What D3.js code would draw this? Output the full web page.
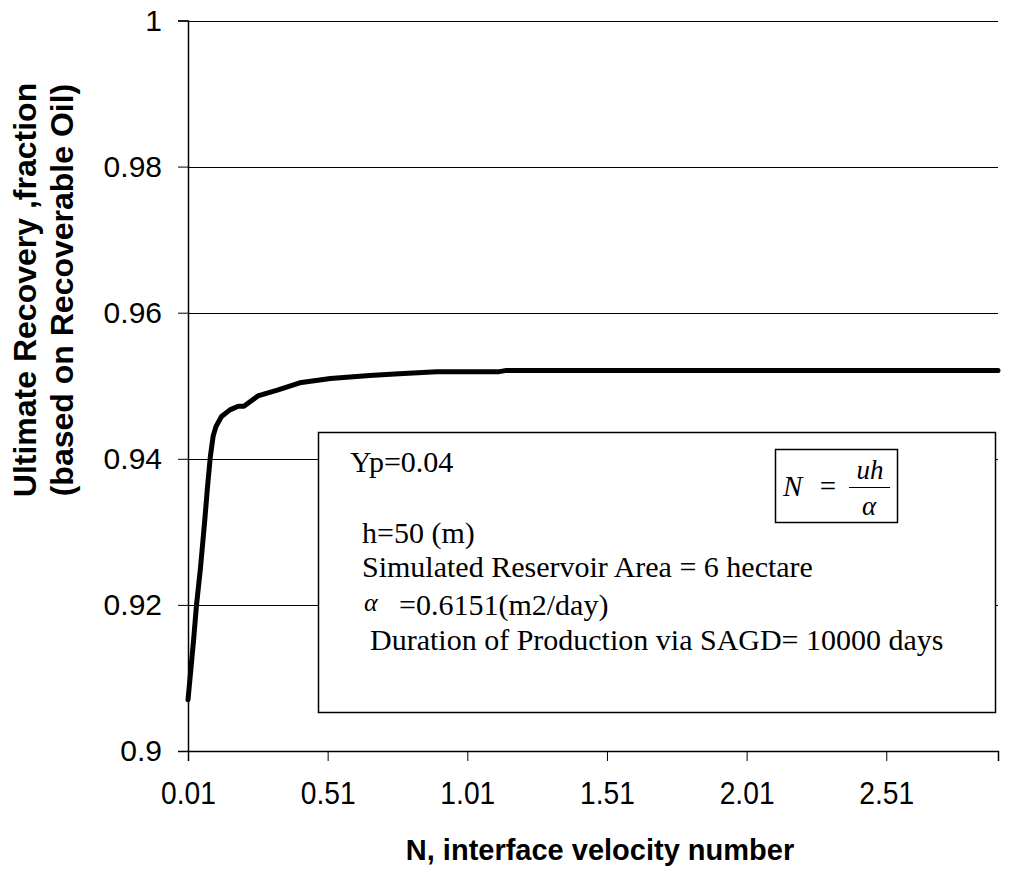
<!DOCTYPE html>
<html lang="en">
<head>
  <meta charset="UTF-8" />
  <title>Ultimate Recovery vs N</title>
  <style>
    html, body {
      margin: 0; padding: 0;
      background: #fff;
      overflow: hidden;
    }
    svg { display: block; }
    .tick-label { font-family: "Liberation Sans", Arial, sans-serif; fill: #000; }
    .axis-title { font-family: "Liberation Sans", Arial, sans-serif; font-weight: bold; fill: #000; }
    .note { font-family: "Liberation Serif", "Times New Roman", serif; fill: #000; }
    .grid { stroke: #000; stroke-width: 1; shape-rendering: crispEdges; }
    .curve { fill: none; stroke: #000; stroke-width: 5; stroke-linejoin: round; stroke-linecap: round; }
  </style>
</head>
<body>
  <svg width="1012" height="873"></svg>

  <script src="https://d3js.org/d3.v7.min.js"></script>
  <script>
    // interface velocity number N and ultimate recovery
    const nValues = [0.01, 0.02, 0.03, 0.04, 0.055, 0.07, 0.08, 0.09, 0.10, 0.11, 0.13, 0.16, 0.19, 0.21,
                     0.26, 0.33, 0.41, 0.52, 0.66, 0.75, 0.90, 1.12, 1.15, 1.50, 2.00, 2.50, 2.91];
    const recovery = [0.9070, 0.9111, 0.9152, 0.9198, 0.9252, 0.9316, 0.9362, 0.9403, 0.9431, 0.9444, 0.9458,
                      0.9467, 0.9472, 0.9472, 0.9486, 0.9494, 0.9504, 0.9510, 0.9514, 0.9516, 0.9519, 0.9519,
                      0.9521, 0.9521, 0.9521, 0.9521, 0.9521];

    const xTicks = [0.01, 0.51, 1.01, 1.51, 2.01, 2.51];
    const yTicks = [0.9, 0.92, 0.94, 0.96, 0.98, 1];

    const noteLines = [
      "h=50 (m)",
      "Simulated Reservoir Area = 6 hectare"
    ];

    const plotLeft = 188, plotRight = 998, plotTop = 20.5, plotBottom = 751;

    const svg = d3.select("svg");

    const x = d3.scaleLinear().domain([0.01, 2.91]).range([plotLeft, plotRight]);
    const y = d3.scaleLinear().domain([0.9, 1]).range([plotBottom, plotTop]);

    // horizontal gridlines
    svg.append("g")
      .selectAll("line")
      .data(yTicks.filter(d => d > 0.9))
      .join("line")
      .attr("class", "grid")
      .attr("x1", plotLeft).attr("x2", plotRight)
      .attr("y1", d => Math.round(y(d)) + 0.5).attr("y2", d => Math.round(y(d)) + 0.5);

    // y axis
    const yAxis = svg.append("g")
      .attr("transform", `translate(${plotLeft},0)`)
      .call(d3.axisLeft(y).tickValues(yTicks).tickSize(10).tickPadding(16)
        .tickFormat(d => d === 1 ? "1" : d3.format(".2~f")(d)));
    yAxis.select(".domain").attr("stroke", "#000").attr("stroke-width", 1.5);
    yAxis.selectAll(".tick line").attr("stroke", "#000");
    yAxis.selectAll(".tick text")
      .attr("class", "tick-label")
      .style("font-size", "30px");

    // x axis (labels a bit condensed, as in the original)
    const xAxis = svg.append("g")
      .attr("transform", `translate(0,${plotBottom})`)
      .call(d3.axisBottom(x).tickValues(xTicks).tickSize(10).tickPadding(21)
        .tickFormat(d3.format(".2f")));
    xAxis.select(".domain").attr("stroke", "#000").attr("stroke-width", 1.5);
    xAxis.selectAll(".tick line").attr("stroke", "#000");
    xAxis.selectAll(".tick text")
      .attr("class", "tick-label")
      .attr("transform", "scale(0.91,1)")
      .style("font-size", "31px");

    // curve
    const line = d3.line()
      .x((d, i) => x(nValues[i]))
      .y(d => y(d));
    svg.append("path")
      .datum(recovery)
      .attr("class", "curve")
      .attr("d", line);

    // axis titles
    svg.append("text")
      .attr("class", "axis-title")
      .attr("x", 600).attr("y", 860)
      .attr("text-anchor", "middle")
      .style("font-size", "29px")
      .text("N, interface velocity number");

    const yt = svg.append("text")
      .attr("class", "axis-title")
      .attr("transform", "translate(36,290) rotate(-90)")
      .attr("text-anchor", "middle")
      .style("font-size", "32px");
    yt.append("tspan").attr("x", 0).attr("y", 0).text("Ultimate Recovery ,fraction");
    yt.append("tspan").attr("x", 0).attr("y", 37).text("(based on Recoverable Oil)");

    // annotation box
    const box = svg.append("g");
    box.append("rect")
      .attr("x", 318.5).attr("y", 432.5).attr("width", 677).attr("height", 280)
      .attr("fill", "#fff").attr("stroke", "#000").attr("stroke-width", 1.5);

    box.append("text").attr("class", "note").attr("x", 350).attr("y", 472)
      .style("font-size", "30px").text("Yp=0.04");
    box.append("text").attr("class", "note").attr("x", 362).attr("y", 543)
      .style("font-size", "30px").text(noteLines[0]);
    box.append("text").attr("class", "note").attr("x", 362).attr("y", 577)
      .style("font-size", "30px").text(noteLines[1]);
    box.append("text").attr("class", "note").attr("x", 364).attr("y", 611)
      .style("font-size", "26px").style("font-style", "italic").text("α");
    box.append("text").attr("class", "note").attr("x", 399).attr("y", 615)
      .style("font-size", "30px").text("=0.6151(m2/day)");
    box.append("text").attr("class", "note").attr("x", 370).attr("y", 650)
      .style("font-size", "30px").text("Duration of Production via SAGD= 10000 days");

    // formula box N = uh / alpha
    const f = svg.append("g");
    f.append("rect")
      .attr("x", 775.5).attr("y", 449.5).attr("width", 122).attr("height", 73)
      .attr("fill", "#fff").attr("stroke", "#000").attr("stroke-width", 1.5);
    f.append("text").attr("class", "note").attr("x", 783).attr("y", 496)
      .style("font-size", "29px").style("font-style", "italic").text("N");
    f.append("text").attr("class", "note").attr("x", 828).attr("y", 496)
      .attr("text-anchor", "middle").style("font-size", "29px").text("=");
    f.append("line")
      .attr("x1", 849).attr("x2", 890).attr("y1", 487.5).attr("y2", 487.5)
      .attr("stroke", "#000").attr("stroke-width", 1.2);
    f.append("text").attr("class", "note").attr("x", 870).attr("y", 479)
      .attr("text-anchor", "middle").style("font-size", "27px").style("font-style", "italic").text("uh");
    f.append("text").attr("class", "note").attr("x", 869).attr("y", 515)
      .attr("text-anchor", "middle").style("font-size", "27px").style("font-style", "italic").text("α");
  </script>
</body>
</html>
